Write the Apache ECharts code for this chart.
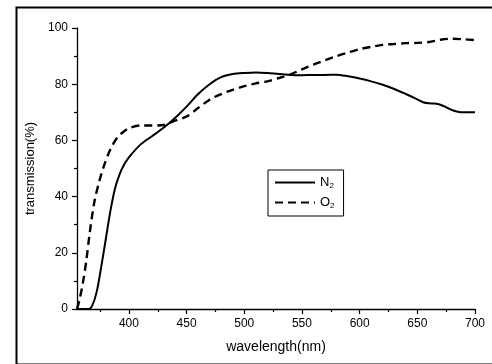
<!DOCTYPE html>
<html>
<head>
<meta charset="utf-8">
<script src="https://cdn.jsdelivr.net/npm/echarts@6/dist/echarts.min.js"></script>
<style>html,body{margin:0;padding:0;background:#fff}#c{width:492px;height:364px}</style>
</head>
<body>
<div id="c"></div>
<script>
var n2Wavelength = [355,360,365,368,372,376,380,384,388,392,396,400,410,420,430,440,450,460,470,480,490,500,510,520,530,540,550,560,570,580,590,600,610,620,630,640,650,655,660,665,670,675,680,685,690,700];
var n2Values = [0,0,0,1,6,15,25,35,43,48,51.5,54,58.5,61.5,64.5,68,72,76.5,80,82.5,83.6,84,84.2,84,83.6,83.3,83.2,83.3,83.3,83.4,82.8,82,81,79.8,78.3,76.5,74.6,73.6,73.2,73.1,72.7,71.8,70.8,70.2,70,70];
var o2Wavelength = [355,357,360,363,366,370,374,378,382,386,390,395,400,410,420,430,440,450,460,470,480,490,500,510,520,530,540,550,560,570,580,590,600,610,620,630,640,650,660,670,680,690,700];
var o2Values = [0,3,9,17,27,38,45,50.5,55,58.5,61,63,64.3,65.3,65.3,65.5,67,68.5,71.5,74.5,76.5,78,79.3,80.3,81,82.2,83.5,85.3,87,88.5,90,91.3,92.5,93.3,94,94.3,94.6,94.7,95,95.8,96.2,96,95.7];
var xMajorTicks = [400,450,500,550,600,650,700];
var xMinorTicks = [375,425,475,525,575,625,675];
var seriesNames = ['N2','O2'];
var xTitle = 'wavelength(nm)';
var yTitle = 'transmission(%)';

function pairs(xs, ys){ return xs.map(function(x,i){ return [x, ys[i]]; }); }

var chart = echarts.init(document.getElementById('c'), null, {renderer:'canvas'});
var font = 'Arial, "Liberation Sans", sans-serif';
chart.setOption({
  animation: false,
  backgroundColor: '#fff',
  graphic: [{
    type: 'rect', left: 14, top: 5, silent: true,
    shape: {x: 0, y: 0, width: 500, height: 357},
    style: {fill: 'none', stroke: '#000', lineWidth: 2}
  }],
  grid: {left: 77, top: 28, right: 17, bottom: 55, containLabel: false},
  legend: {
    left: 268, top: 170, orient: 'vertical',
    data: seriesNames,
    itemWidth: 40, itemHeight: 12, itemGap: 6,
    padding: [6, 9, 6, 6],
    borderColor: '#000', borderWidth: 1,
    itemStyle: {opacity: 0},
    formatter: function(name){ return '{n|' + name.charAt(0) + '}{s|' + name.slice(1) + '}'; },
    textStyle: {
      color: '#000', fontFamily: font,
      rich: {
        n: {fontSize: 13, fontFamily: font, color: '#000'},
        s: {fontSize: 8, fontFamily: font, color: '#000', verticalAlign: 'bottom', padding: [7,0,0,0]}
      }
    }
  },
  xAxis: [{
    type: 'value', min: 355, max: 700,
    name: xTitle, nameLocation: 'middle', nameGap: 31,
    nameTextStyle: {fontSize: 14, fontFamily: font, color: '#000'},
    axisLine: {show: true, onZero: false, lineStyle: {color: '#000', width: 1.3}},
    axisTick: {show: true, inside: false, length: 5, customValues: xMajorTicks, lineStyle: {color: '#000', width: 1.2}},
    axisLabel: {show: true, customValues: xMajorTicks, fontSize: 12, fontFamily: font, color: '#000', margin: 9},
    splitLine: {show: false}
  }, {
    type: 'value', min: 355, max: 700, position: 'bottom',
    axisLine: {show: false, onZero: false},
    axisTick: {show: true, inside: false, length: 3, customValues: xMinorTicks, lineStyle: {color: '#000', width: 1.2}},
    axisLabel: {show: false},
    splitLine: {show: false}
  }],
  yAxis: {
    type: 'value', min: 0, max: 100, interval: 20,
    name: yTitle, nameLocation: 'middle', nameGap: 34, nameRotate: 90,
    nameTextStyle: {fontSize: 13, fontFamily: font, color: '#000'},
    axisLine: {show: true, lineStyle: {color: '#000', width: 1.3}},
    axisTick: {show: true, inside: false, length: 5, lineStyle: {color: '#000', width: 1.2}},
    minorTick: {show: true, splitNumber: 2, length: 3, lineStyle: {color: '#000', width: 1.2}},
    axisLabel: {fontSize: 12, fontFamily: font, color: '#000', margin: 9},
    splitLine: {show: false}
  },
  series: [{
    name: seriesNames[0], type: 'line', smooth: 0.3, symbol: 'none',
    data: pairs(n2Wavelength, n2Values),
    lineStyle: {color: '#000', width: 2, type: 'solid'},
    itemStyle: {color: '#000'}
  }, {
    name: seriesNames[1], type: 'line', smooth: 0.3, symbol: 'none',
    data: pairs(o2Wavelength, o2Values),
    lineStyle: {color: '#000', width: 2.4, type: [8, 5]},
    itemStyle: {color: '#000'}
  }]
});
</script>
</body>
</html>
